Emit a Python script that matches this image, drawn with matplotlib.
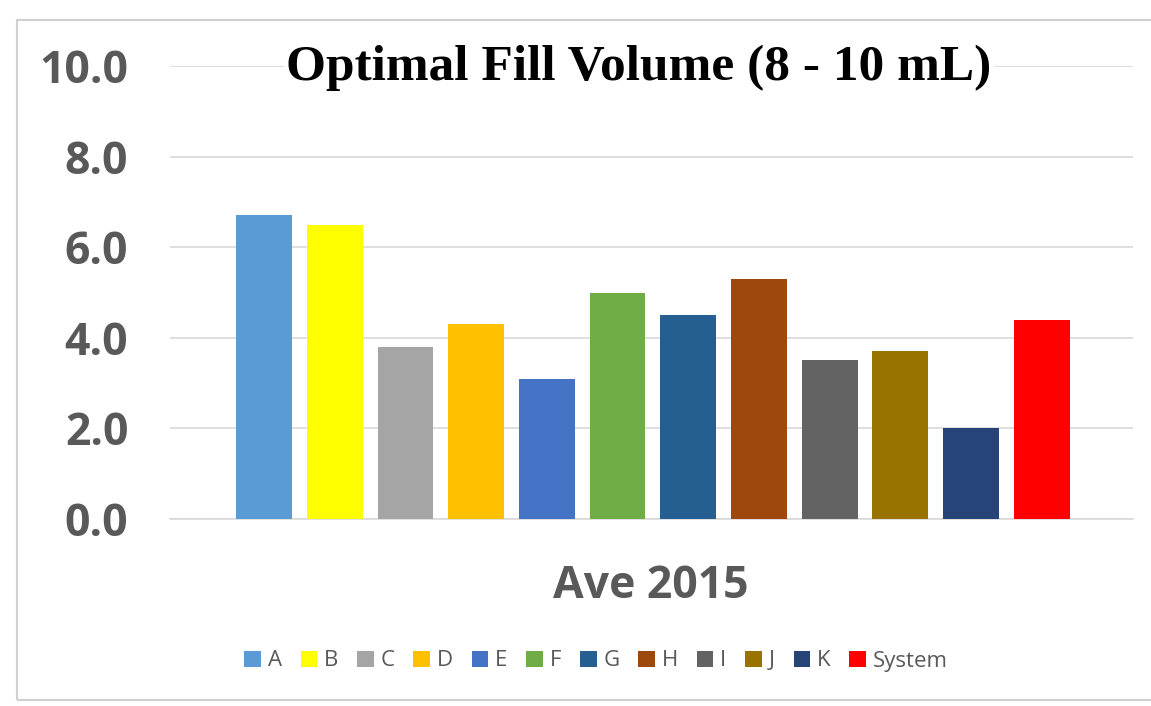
import matplotlib
matplotlib.use("Agg")
import matplotlib.pyplot as plt
from matplotlib.patches import Rectangle, Patch

categories = ["A", "B", "C", "D", "E", "F", "G", "H", "I", "J", "K", "System"]
values = [6.7, 6.5, 3.8, 4.3, 3.1, 5.0, 4.5, 5.3, 3.5, 3.7, 2.0, 4.4]
colors = ["#5B9BD5", "#FFFF00", "#A5A5A5", "#FFC000", "#4472C4", "#70AD47",
          "#255E91", "#9E480E", "#636363", "#997300", "#264478", "#FF0000"]
yticks = [0, 2, 4, 6, 8, 10]
ytick_labels = ["0.0", "2.0", "4.0", "6.0", "8.0", "10.0"]
title = "Optimal Fill Volume (8 - 10 mL)"
xlabel = "Ave 2015"

W, H = 1151, 706
fig = plt.figure(figsize=(W / 100, H / 100), dpi=100)
fig.patch.set_facecolor("white")

# outer chart border
fig.add_artist(Rectangle((17 / W, 1 - 700 / H), (W - 17) / W + 0.01, (700 - 20) / H,
                         transform=fig.transFigure, fill=False, edgecolor="#D0D0D0", lw=1.5))

ax = fig.add_axes([170 / W, 1 - 519 / H, (1133 - 170) / W, (519 - 66) / H])
x = list(range(len(categories)))
ax.bar(x, values, width=0.79, color=colors, zorder=3)
ax.set_xlim(-1.33, 12.29)
ax.set_ylim(0, 10)
ax.set_yticks(yticks)
ax.set_yticklabels(ytick_labels, fontfamily="Open Sans", fontweight="bold",
                   fontsize=32, color="#595959")
ax.tick_params(axis="y", length=0, pad=30)
ax.set_xticks([])
for s in ["top", "right", "left"]:
    ax.spines[s].set_visible(False)
ax.spines["bottom"].set_color("#D9D9D9")
ax.spines["bottom"].set_linewidth(1.2)
ax.grid(axis="y", color="#D9D9D9", lw=1.2, zorder=0)
ax.set_axisbelow(True)

ax.text(639 / W, 1 - 68 / H, title, transform=fig.transFigure, ha="center", va="center",
        fontfamily="Liberation Serif", fontweight="bold", fontsize=37, color="black",
        bbox=dict(facecolor="white", edgecolor="none", pad=2), zorder=5)

fig.text(651 / W, 1 - 587 / H, xlabel, ha="center", va="center",
         fontfamily="Open Sans", fontweight="bold", fontsize=32, color="#595959")

handles = [Patch(facecolor=c, edgecolor="none") for c in colors]
fig.legend(handles, categories, loc="center", bbox_to_anchor=(596 / W, 1 - 661 / H),
           ncol=len(categories), frameon=False, handlelength=0.75, handleheight=0.75,
           handletextpad=0.3, columnspacing=0.85,
           prop=dict(family="Open Sans", size=16), labelcolor="#595959")

fig.savefig("out.png", dpi=100)
